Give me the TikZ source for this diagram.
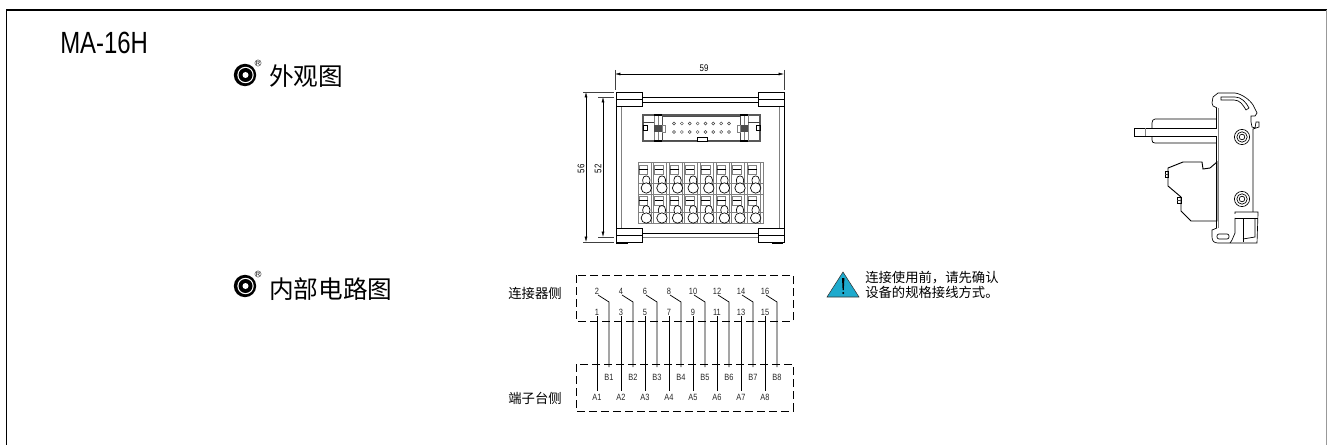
\documentclass[tikz,border=0pt]{standalone}
\usepackage{fontspec}
\setmainfont{Liberation Sans}
\newfontfamily\cjk{Noto Sans CJK SC}
\usetikzlibrary{arrows.meta}
\newcommand{\cond}[1]{\scalebox{.82}[1]{#1}}
\tikzset{
  x=0.75pt,y=-0.75pt,
  frameline/.style={line width=1.2pt,black},
  thin line/.style={line width=0.5pt,black},
  hair/.style={line width=0.35pt,black!75},
  gray line/.style={line width=0.7pt,black!50},
  dashbox/.style={line width=0.6pt,black,dash pattern=on 6pt off 3pt},
  wire/.style={line width=0.55pt,black},
  tiny label/.style={font=\fontsize{6.8}{7}\selectfont,inner sep=0pt,text=black!85},
  dim label/.style={font=\fontsize{7.2}{8}\selectfont,inner sep=0pt},
  side label/.style={font=\cjk\fontsize{10}{11}\selectfont,inner sep=0pt},
  head label/.style={font=\cjk\fontsize{18.5}{20}\selectfont,inner sep=0pt,anchor=west},
  dimarrow/.style={line width=0.4pt,black,{Latex[length=4pt,width=2.2pt]}-{Latex[length=4pt,width=2.2pt]}},
}
\begin{document}
\begin{tikzpicture}
\useasboundingbox (0,0) rectangle (1327,445);
\draw[frameline] (6.5,445) -- (6.5,10) -- (1327,10);
\draw[line width=0.6pt,black!40] (1326.3,10) -- (1326.3,445);
\node[anchor=west,inner sep=0pt,font=\fontsize{23}{26}\selectfont] (model) at (60,43) {\scalebox{.78}[1]{MA-16H}};
% bullets
\foreach \cy/\nm in {75/a,286/b}{
  \fill[black] (245,\cy) circle[radius=11.2];
  \fill[white] (245.5,\cy) circle[radius=8.2];
  \fill[black] (245.5,\cy) circle[radius=7];
  \fill[white] (245.5,\cy) circle[radius=3];
  \node[font=\fontsize{4.5}{5}\selectfont,inner sep=0.1pt,draw,circle,line width=0.2pt] at (258,\cy-12) {R};
}
\node[head label] (h1) at (269,76) {外观图};
\node[head label] (h2) at (269,289) {内部电路图};
% front view ---------------------------------
\node[dim label] (d59) at (704,68) {\cond{59}};
\coordinate (dl) at (615,74); \coordinate (dr) at (784,74);
\draw[dimarrow] (dl) -- (dr);
\draw[hair] (615,70) -- (615,90); \draw[hair] (784,70) -- (784,90);
\draw[dimarrow] (586,92) -- (586,242);
\draw[dimarrow] (603,97) -- (603,237);
\draw[hair] (583,92) -- (614,92); \draw[hair] (583,242) -- (614,242);
\draw[hair] (598,97) -- (614,97); \draw[hair] (598,237) -- (614,237);
\node[dim label,rotate=90] (d56) at (581,169) {\cond{56}};
\node[dim label,rotate=90] (d52) at (598,169) {\cond{52}};
% rail bars
\draw[thin line] (642,97) -- (758,97) (642,102) -- (758,102);
\draw[thin line] (642,233) -- (758,233);
\draw[gray line] (642,237) -- (758,237);
% side rails
\draw[thin line] (616,106) -- (616,228);
\draw[gray line] (621,106) -- (621,228);
\draw[thin line] (784,106) -- (784,228);
\draw[gray line] (779,106) -- (779,228);
% corners
\foreach \xx/\yy in {616/92,758/92,616/228,758/228}{
  \draw[thin line,fill=white] (\xx,\yy) rectangle +(26,14);
  \draw[thin line] (\xx,\yy+7) -- +(26,0);
}
\draw[line width=0.9pt] (616,243) -- (628,243) (772,243) -- (783,243);
% connector
\draw[line width=0.8pt,black!65] (643,115) rectangle (760,141);
\draw[line width=0.7pt,black!70] (662,116) rectangle (740,140);
\foreach \xx in {654,658,744,748}{\draw[gray line] (\xx,115) -- (\xx,141);}
\fill[black] (654,114) rectangle (662,116.5);
\fill[black] (654,140) rectangle (662,142.5);
\fill[black] (740,114) rectangle (748,116.5);
\fill[black] (740,140) rectangle (748,142.5);
\fill[black!70] (654,125) rectangle (662,132);
\fill[black!70] (740,125) rectangle (748,132);
\draw[gray line] (662,125) rectangle (665,132);
\draw[gray line] (740,125) rectangle (737,132);
\draw[thin line] (643,125) rectangle (647,130);
\draw[thin line] (756,125) rectangle (760,130);
\draw[hair] (643,122) -- (654,122) (748,122) -- (760,122);
\draw[thin line,fill=white] (697,141) -- (697,137) -- (707,137) -- (707,141) -- cycle;
\foreach \i in {0,...,7}{
  \draw[hair] (674+7.86*\i,123.5) circle[radius=1.5];
  \draw[hair] (674+7.86*\i,132) circle[radius=1.5];
}
% terminals
\draw[gray line] (638,162) rectangle (763,223);
\draw[gray line] (638,183) -- (763,183);
\draw[gray line] (638,194) -- (763,194);
\draw[gray line] (638,212) -- (763,212);
\foreach \i in {0,...,7}{
  \pgfmathsetmacro{\bx}{638+15.62*\i}
  \pgfmathsetmacro{\cxx}{646+15.62*\i}
  \draw[gray line] (\bx,162) -- (\bx,223);
  \draw[gray line] (\bx+13,162) -- (\bx+13,223);
  \draw[gray line] (\bx+1,165) rectangle +(8.5,9);
  \draw[thin line] (\bx+1,169.5) -- +(8.5,0);
  \draw[gray line] (\bx+1,196) rectangle +(8.5,9);
  \draw[thin line] (\bx+1,200) -- +(8.5,0);
  \draw[thin line,fill=white] (\cxx-2.6,184) -- (\cxx-3.4,180) .. controls (\cxx-3.4,174.5) and (\cxx+4,174.5) .. (\cxx+4,180) -- (\cxx+3.2,184);
  \draw[thin line,fill=white] (\cxx-2.6,213) -- (\cxx-3.4,210) .. controls (\cxx-3.4,204) and (\cxx+4,204) .. (\cxx+4,210) -- (\cxx+3.2,213);
  \draw[thin line,fill=white] (\cxx+.3,188) circle[radius=5.2];
  \draw[thin line,fill=white] (\cxx+.3,218) circle[radius=5.2];
}
\draw[gray line] (763,162) -- (763,223);
% side view -----------------------------------
\draw[thin line] (1217,108) -- (1213,106) -- (1212,103) -- (1213,97) -- (1218,93) -- (1235,93) .. controls (1242,94) and (1250,100) .. (1253,105) -- (1257,113) -- (1255,116) -- (1251,116) -- (1251,122) -- (1252,127) -- (1255,128) -- (1256,122) -- (1259,122) -- (1259,127) -- (1253,129) -- (1253,212);
\draw[thin line] (1221,97) -- (1235,97) .. controls (1241,97) and (1246,102) .. (1249,108) -- (1246,110) .. controls (1243,105) and (1240,100) .. (1234,100) -- (1221,100) -- cycle;
\draw[line width=0.5pt,black] (1216.5,108) -- (1216.5,228);
\draw[gray line] (1218,108) -- (1218,228);
\draw[thin line] (1217,228) -- (1212,230) -- (1212,237) .. controls (1212,241) and (1214,243) .. (1218,243) -- (1257,243) -- (1258,213) -- (1258,212) -- (1235,212) -- (1235,214);
\draw[thin line] (1235,218) -- (1258,218);
\draw[thin line] (1235,218) -- (1235,233) -- (1232,240) -- (1230,243);
\draw[thin line] (1243,219) -- (1243,242);
\draw[thin line] (1255,219) -- (1255,237) -- (1243,239);
\draw[thin line,rounded corners=1.5pt] (1217,234) rectangle (1229,239);
\foreach \yy in {137,199}{
  \draw[thin line] (1242,\yy) circle[radius=7.6];
  \draw[thin line] (1242,\yy) circle[radius=5.2];
  \draw[thin line] (1242,\yy) circle[radius=2.8];
}
\draw[thin line] (1216.5,119) -- (1155,119) .. controls (1153,119) and (1152,121) .. (1152,123) -- (1152,140) .. controls (1152,142) and (1153,143) .. (1155,143) -- (1216.5,143);
\draw[line width=0.6pt,fill=white] (1216.5,128) -- (1134,128) -- (1134,136) -- (1216.5,136);
\draw[gray line] (1145,128) -- (1145,136);
\draw[line width=0.7pt] (1217,162) -- (1210,168) -- (1203,169) -- (1202,162) -- (1183,162) -- (1168,168) -- (1168,186) -- (1181,197) -- (1181,211) -- (1191,221) -- (1217,221) -- cycle;
\draw[thin line] (1165,171) rectangle (1168,177);
\draw[thin line] (1177,197) rectangle (1181,203);
\draw[hair] (1165,174) -- (1168,174) (1177,200) -- (1181,200);
% circuit -------------------------------------
\draw[dashbox] (576,275) rectangle (793,321);
\draw[dashbox] (576,364) rectangle (793,411);
\node[side label,anchor=east] (conn) at (562,293) {连接器侧};
\node[side label,anchor=east] (term) at (562,398) {端子台侧};
\foreach \i/\e/\o/\nb in {0/1/2/1,1/3/4/2,2/5/6/3,3/7/8/4,4/9/10/5,5/11/12/6,6/13/14/7,7/15/16/8}{
  \pgfmathsetmacro{\xa}{597+24*\i}
  \pgfmathsetmacro{\xb}{609+24*\i}
  \node[tiny label] (n\e) at (\xa,312) {\cond{\e}};
  \node[tiny label] (n\o) at (\xa,291) {\cond{\o}};
  \node[tiny label] (a\nb) at (\xa,397) {\cond{A\nb}};
  \node[tiny label] (b\nb) at (\xb,377) {\cond{B\nb}};
  \coordinate (ae\nb) at (\xa,391);
  \coordinate (as\nb) at (\xa,316);
  \coordinate (bs\nb) at (\xb,367);
  \coordinate (be\nb) at (\xb,302);
  \coordinate (bt\nb) at (\xa+1,295);
  \draw[wire] (as\nb) -- (ae\nb);
  \draw[wire] (bs\nb) -- (be\nb) -- (bt\nb);
}
% warning
\draw[black!80,line width=0.4pt,fill={rgb,255:red,30;green,170;blue,205}] (827,297) -- (843,272) -- (859,297) -- cycle;
\fill[black] (842,278) -- (844.4,278) -- (843.8,290) -- (842.6,290) -- cycle;
\fill[black] (843.2,293) circle[radius=1.2];
\node[inner sep=0pt,anchor=west,font=\cjk\fontsize{10}{11.25}\selectfont,align=left] (warn) at (865,284.5) {连接使用前，请先确认\\设备的规格接线方式。};
\end{tikzpicture}
\end{document}
